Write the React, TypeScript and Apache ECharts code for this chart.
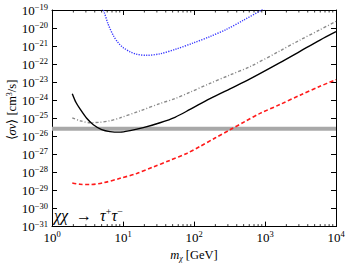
import React, { useEffect, useRef } from "react";
import * as echarts from "echarts";

// Dark matter mass m_chi [GeV] and <sigma v> [cm^3/s]
const blackMass = [1.93, 2.18, 2.48, 3.08, 3.82, 5.01, 6.56, 9.08, 12.6, 19.3, 33.2, 54.0, 87.9, 168, 321, 615, 1626, 3112, 5957, 10000];
const blackSigma = [2.31e-24, 7.46e-25, 3.3e-25, 1.0e-25, 4.42e-26, 2.36e-26, 1.84e-26, 1.72e-26, 2.08e-26, 3.03e-26, 5.69e-26, 1.14e-25, 3.1e-25, 1.23e-24, 4.33e-24, 1.52e-23, 1.21e-22, 5.12e-22, 2.17e-21, 6.31e-21];

const grayMass = [1.93, 2.48, 3.43, 4.74, 6.56, 9.08, 17.3, 33.2, 54.0, 87.9, 168, 321, 615, 1626, 3112, 5957, 10000];
const graySigma = [1.06e-25, 7.31e-26, 5.69e-26, 6.05e-26, 7.31e-26, 1.06e-25, 2.56e-25, 6.58e-25, 1.23e-24, 2.79e-24, 8.63e-24, 2.51e-23, 7.31e-23, 5.45e-22, 2.17e-21, 8.11e-21, 2.36e-20];

const redMass = [1.93, 2.48, 3.43, 5.28, 9.08, 15.6, 26.7, 45.9, 78.9, 122, 198, 321, 522, 851, 1626, 3112, 5957, 10000];
const redSigma = [2.61e-29, 2.21e-29, 2.13e-29, 2.67e-29, 4.71e-29, 8.81e-29, 2.0e-28, 4.69e-28, 1.13e-27, 2.79e-27, 8.11e-27, 2.3e-26, 6.61e-26, 1.87e-25, 5.81e-25, 1.91e-24, 5.93e-24, 1.39e-23];

const blueMass = [4.79, 5.28, 6.15, 7.31, 8.51, 10.1, 12.6, 15.6, 21.6, 33.2, 57.0, 97.7, 168, 289, 494, 899, 1000];
const blueSigma = [1.6e-19, 1.0e-19, 1.72e-20, 3.82e-21, 1.58e-21, 8.15e-22, 4.81e-22, 3.51e-22, 3.1e-22, 3.74e-22, 7.0e-22, 1.49e-21, 3.37e-21, 8.63e-21, 2.67e-20, 1.0e-19, 1.3e-19];

const relicMass = [1, 10000];
const relicSigma = [2.6e-26, 2.6e-26];

const minorTickMass = [2, 3, 4, 5, 6, 7, 8, 9, 20, 30, 40, 50, 60, 70, 80, 90, 200, 300, 400, 500, 600, 700, 800, 900, 2000, 3000, 4000, 5000, 6000, 7000, 8000, 9000];

// axis ranges, as decades (log10)
const X_MIN = 0;
const X_MAX = 4;
const Y_MIN = -31;
const Y_MAX = -19;

const SERIF = "Liberation Serif";

function logZip(xs: number[], ys: number[]) {
  return xs.map((x, i) => [Math.log10(x), Math.log10(ys[i])]);
}

function powLabel(v: number) {
  const e = Math.round(v);
  const s = e < 0 ? "\u2212" + Math.abs(e) : String(e);
  return "{b|10}{s|" + s + "}";
}

const labelRich = {
  b: { fontFamily: SERIF, fontSize: 13, lineHeight: 15, color: "#000" },
  s: { fontFamily: SERIF, fontSize: 8.5, lineHeight: 9, verticalAlign: "top", color: "#000" },
};

export default function App() {
  const ref = useRef<HTMLDivElement>(null);
  useEffect(() => {
    if (!ref.current) return;
    document.body.style.margin = "0";
    const chart = echarts.init(ref.current, null, { renderer: "svg" });
    const tickStyle = { color: "#000", width: 1 };
    const baseAxis = {
      type: "value",
      axisLine: { show: true, onZero: false, lineStyle: { color: "#000", width: 1 } },
      axisTick: { show: true, inside: true, length: 5, lineStyle: tickStyle },
      splitLine: { show: false },
      interval: 1,
    };
    chart.setOption({
      animation: false,
      backgroundColor: "#fff",
      textStyle: { fontFamily: SERIF },
      grid: { left: 52, right: 13, top: 10, bottom: 37, containLabel: false },
      xAxis: [
        {
          ...baseAxis,
          min: X_MIN,
          max: X_MAX,
          position: "bottom",
          axisLabel: { formatter: powLabel, rich: labelRich, margin: 3, fontFamily: SERIF },
          name: "{i|m}{sub|\u03c7} {n|[GeV]}",
          nameLocation: "middle",
          nameGap: 21,
          nameTextStyle: {
            fontFamily: SERIF,
            rich: {
              i: { fontFamily: SERIF, fontStyle: "italic", fontSize: 12.5, lineHeight: 14, color: "#000" },
              sub: { fontFamily: SERIF, fontStyle: "italic", fontSize: 8, lineHeight: 8, verticalAlign: "bottom", color: "#000" },
              n: { fontFamily: SERIF, fontSize: 12.5, lineHeight: 14, color: "#000" },
            },
          },
        },
        {
          ...baseAxis,
          min: X_MIN,
          max: X_MAX,
          position: "top",
          axisLabel: { show: false },
        },
      ],
      yAxis: [
        {
          ...baseAxis,
          min: Y_MIN,
          max: Y_MAX,
          position: "left",
          axisLabel: { formatter: powLabel, rich: labelRich, margin: 4, fontFamily: SERIF },
        },
        {
          ...baseAxis,
          min: Y_MIN,
          max: Y_MAX,
          position: "right",
          axisLabel: { show: false },
        },
      ],
      graphic: [
        {
          type: "text",
          x: 12,
          y: 110,
          rotation: Math.PI / 2,
          style: {
            text: "{n|\u27e8}{i|\u03c3v}{n|\u27e9 [cm}{s|3}{n|/s]}",
            align: "center",
            verticalAlign: "middle",
            fontFamily: SERIF,
            rich: {
              n: { fontFamily: SERIF, fontSize: 12.5, lineHeight: 14, fill: "#000" },
              i: { fontFamily: SERIF, fontStyle: "italic", fontSize: 12.5, lineHeight: 14, fill: "#000" },
              s: { fontFamily: SERIF, fontSize: 8, lineHeight: 8, verticalAlign: "top", fill: "#000" },
            },
          },
        },
        {
          type: "text",
          left: 54,
          top: 206,
          style: {
            text: "{i|\u03c7\u03c7}{n|  \u2192  }{i|\u03c4}{s|+}{i|\u03c4}{s|\u2212}",
            fontFamily: SERIF,
            rich: {
              i: { fontFamily: SERIF, fontStyle: "italic", fontSize: 16, lineHeight: 18, fill: "#000" },
              n: { fontFamily: SERIF, fontSize: 16, lineHeight: 18, fill: "#000" },
              s: { fontFamily: SERIF, fontSize: 10, lineHeight: 10, verticalAlign: "top", fill: "#000" },
            },
          },
        },
      ],
      series: [
        {
          type: "line",
          data: logZip(relicMass, relicSigma),
          showSymbol: false,
          lineStyle: { color: "#a8a8a8", width: 4 },
          silent: true,
          z: 1,
        },
        {
          type: "line",
          data: logZip(blueMass, blueSigma),
          showSymbol: false,
          smooth: 0.3,
          clip: true,
          lineStyle: { color: "#3434ff", width: 1.4, type: [1.2, 1.3] },
          z: 2,
        },
        {
          type: "line",
          data: logZip(grayMass, graySigma),
          showSymbol: false,
          smooth: 0.3,
          lineStyle: { color: "#8a8a8a", width: 1.4, type: [3, 2, 1, 2] },
          z: 2,
        },
        {
          type: "line",
          data: logZip(blackMass, blackSigma),
          showSymbol: false,
          smooth: 0.3,
          lineStyle: { color: "#000", width: 1.4 },
          z: 3,
        },
        {
          type: "line",
          data: logZip(redMass, redSigma),
          showSymbol: false,
          smooth: 0.3,
          lineStyle: { color: "#ff1a1a", width: 1.6, type: [4, 2.5] },
          z: 3,
        },
        {
          type: "custom",
          silent: true,
          clip: false,
          data: minorTickMass.map((m) => [Math.log10(m), -25]),
          renderItem: (params: any, api: any) => {
            const lx = api.value(0);
            const pb = api.coord([lx, Y_MIN]);
            const pt = api.coord([lx, Y_MAX]);
            return {
              type: "group",
              children: [
                { type: "line", shape: { x1: pb[0], y1: pb[1], x2: pb[0], y2: pb[1] - 2.5 }, style: { stroke: "#000", lineWidth: 0.8 } },
                { type: "line", shape: { x1: pt[0], y1: pt[1], x2: pt[0], y2: pt[1] + 2.5 }, style: { stroke: "#000", lineWidth: 0.8 } },
              ],
            };
          },
          z: 5,
        },
      ],
    });
    return () => chart.dispose();
  }, []);
  return <div ref={ref} style={{ width: 349, height: 267 }} />;
}
